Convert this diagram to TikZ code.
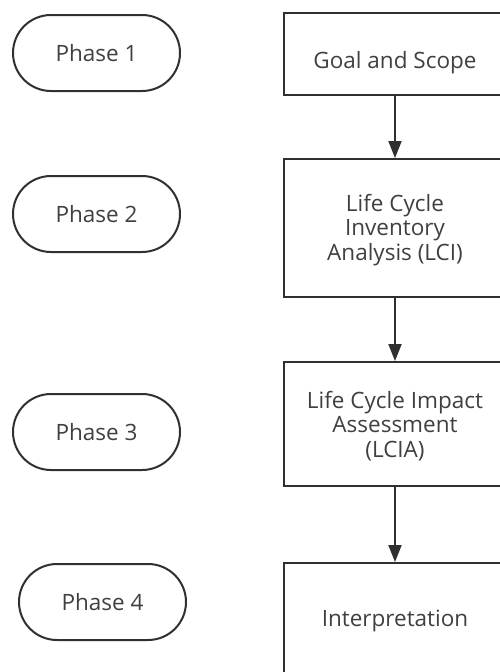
\documentclass[tikz,border=0pt]{standalone}
\usepackage{fontspec}
\setmainfont{Open Sans}
\usetikzlibrary{arrows.meta}
\definecolor{ln}{HTML}{303030}
\definecolor{tx}{HTML}{404040}
\begin{document}
\begin{tikzpicture}[x=1pt,y=-1pt,
  pill/.style={draw=ln,line width=2pt,rounded corners=38pt,minimum width=167pt,minimum height=76pt,inner sep=0pt,text=tx,font=\fontsize{22.5}{24.5}\selectfont},
  box/.style={draw=ln,line width=2pt,minimum width=222pt,inner sep=0pt},
  txt/.style={text=tx,align=center,font=\fontsize{22.5}{24.5}\selectfont,inner sep=0pt},
  conn/.style={draw=ln,line width=2pt,-{Triangle[width=13pt,length=17pt]}}]
\useasboundingbox (0,0) rectangle (500,672);
\clip (0,0) rectangle (500,672);
\fill[white] (0,0) rectangle (500,672);
% phases
\node[pill] (p1) at (96.5,53) {Phase 1};
\node[pill] (p2) at (96.5,214) {Phase 2};
\node[pill] (p3) at (96.5,432) {Phase 3};
\node[pill] (p4) at (102.5,602) {Phase 4};
% boxes
\node[box,minimum height=82pt] (b1) at (395,54) {};
\node[txt] (t1) at (395,63) {Goal and Scope};
\node[box,minimum height=138pt] (b2) at (395,228) {};
\node[txt] (t2) at (395,230) {Life Cycle\\Inventory\\Analysis (LCI)};
\node[box,minimum height=124pt] (b3) at (395,424) {};
\node[txt] (t3) at (395,426) {Life Cycle Impact\\Assessment\\(LCIA)};
\node[box,minimum height=117pt] (b4) at (395,621.5) {};
\node[txt] (t4) at (395,621) {Interpretation};
% connectors
\draw[conn] (b1.south) -- (b2.north);
\draw[conn] (b2.south) -- (b3.north);
\draw[conn] (b3.south) -- (b4.north);
\end{tikzpicture}
\end{document}
